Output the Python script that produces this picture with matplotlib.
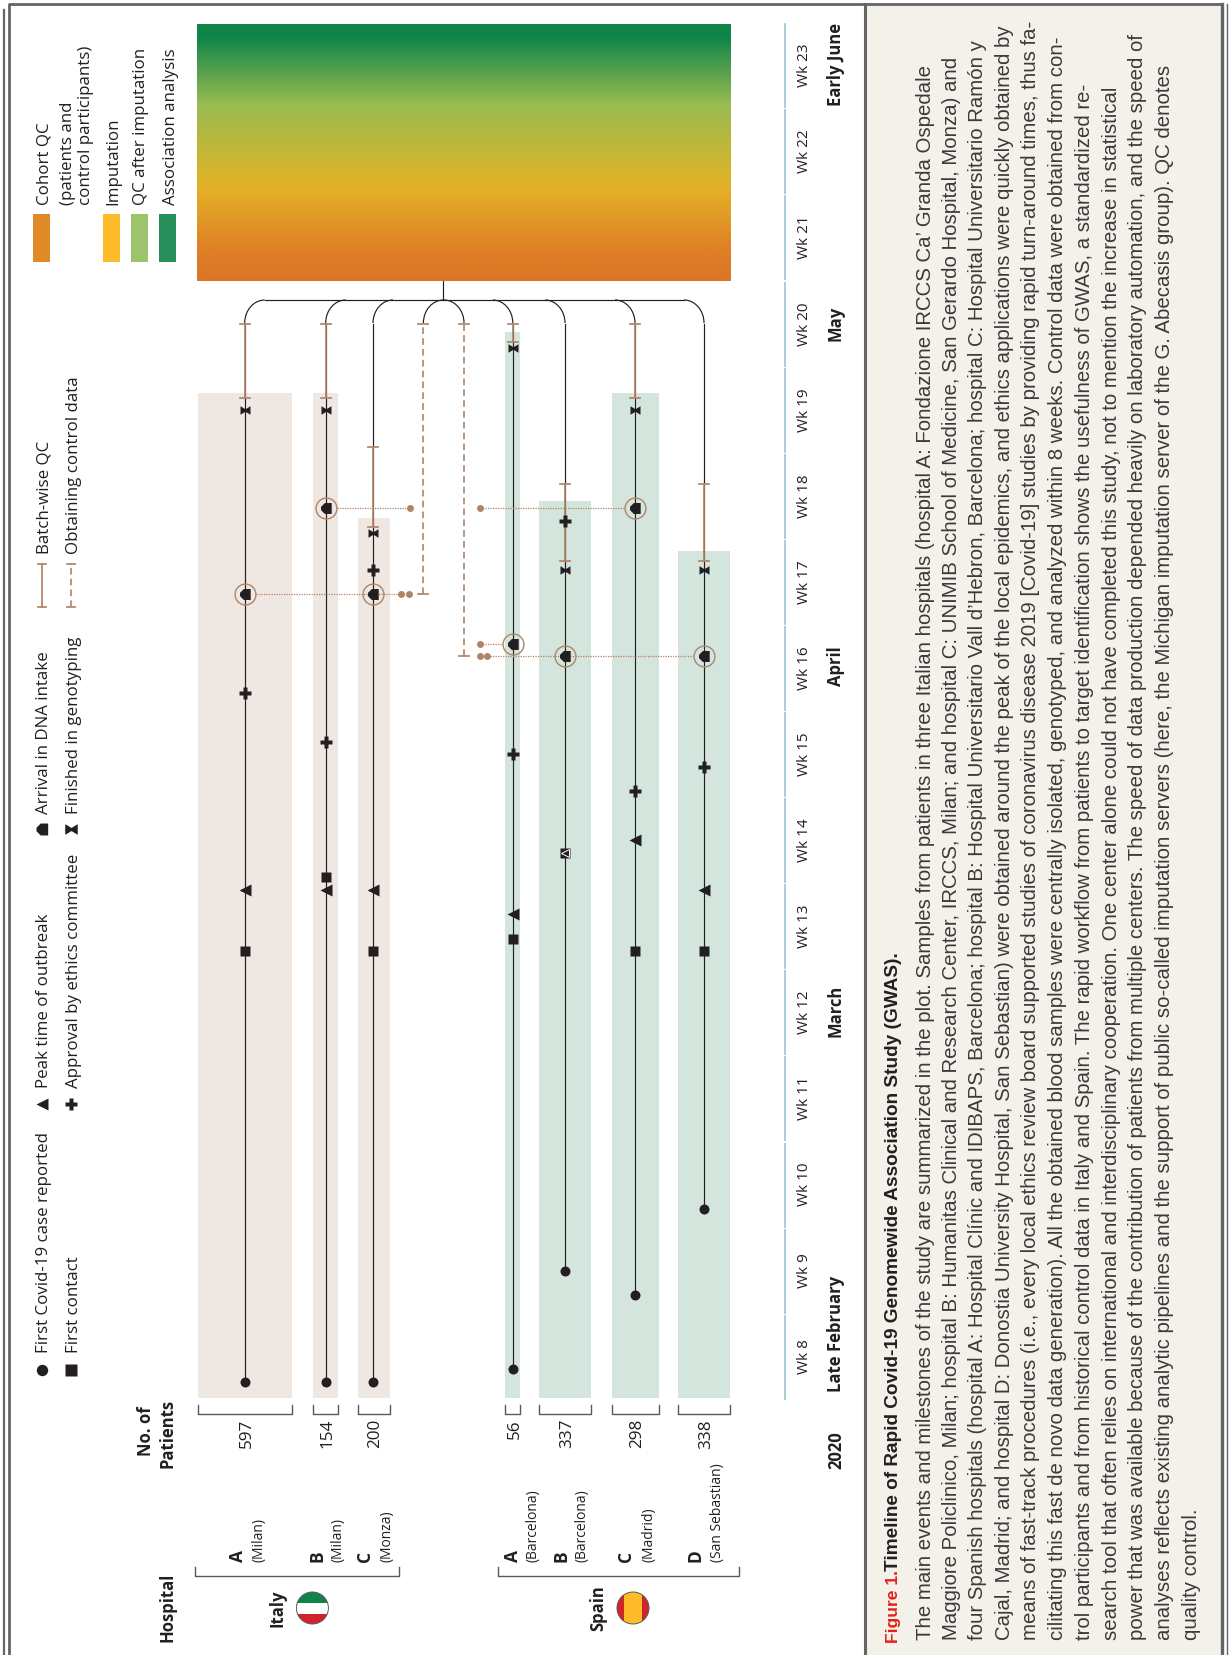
import numpy as np
import matplotlib
matplotlib.use("Agg")
import matplotlib.pyplot as plt
from matplotlib.path import Path
from matplotlib.patches import PathPatch, Rectangle, Circle
from matplotlib.colors import LinearSegmentedColormap

# ------------- data (days since the start of Wk 8, 2020) -------------
hospitals = ["IT-A", "IT-B", "IT-C", "ES-A", "ES-B", "ES-C", "ES-D"]
patients = [597, 154, 200, 56, 337, 298, 338]
first_case = [1.5, 1.5, 1.5, 2.5, 10.5, 8.5, 15.5]
first_contact = [36.5, 42.5, 36.5, 37.5, 44.5, 36.5, 36.5]
peak = [41.5, 41.5, 41.5, 39.5, 44.5, 45.5, 41.5]
approval = [57.5, 53.5, 67.5, 52.5, 71.5, 49.5, 51.5]
arrival = [65.5, 72.5, 65.5, 61.5, 60.5, 72.5, 60.5]
finished = [80.5, 80.5, 70.5, 85.5, 67.5, 80.5, 67.5]
batch_start = [81.5, 81.5, 71.0, 86.0, 68.2, 81.5, 68.2]
batch_end = [87.5, 87.5, 77.5, 87.5, 74.5, 87.5, 74.5]
band_end = [81.9, 81.9, 71.7, 86.8, 73.1, 81.9, 69.0]
control_start = [65.5, 60.5]
control_end = [87.5, 87.5]
analysis_start, analysis_end = 91.0, 111.85
timeline_start, timeline_end = 0.15, 87.5
weeks = list(range(8, 24))
months = ["Late February", "March", "April", "May", "Early June"]
month_days = [5.4, 31.6, 59.7, 87.5, 108.6]

# ------------- layout -------------
W, H = 1229, 1655
DAY_PX, Y0 = 12.3, 1400.0
lane_x = [244.7, 325.7, 373, 512.8, 565, 635, 704]
band_lo = [198, 313, 358, 505, 539, 612, 678]
band_hi = [292, 338, 389.5, 520, 591, 659, 730]
ctrl_x = [423.4, 464]
BROWN = "#B08468"
IT_BAND, ES_BAND = "#EFE7E1", "#D4E5DD"
INK = "#231F20"
FONT = "Open Sans"
NARROW = ["Liberation Sans Narrow", "Liberation Sans"]

fig = plt.figure(figsize=(W / 100, H / 100), dpi=100, facecolor="white")
px = fig.add_axes([0, 0, 1, 1]); px.set_xlim(0, W); px.set_ylim(H, 0); px.axis("off")
ax = fig.add_axes([0, 0, 1, 1]); ax.set_xlim(0, W)
ax.set_ylim((Y0 - H) / DAY_PX, Y0 / DAY_PX); ax.axis("off"); ax.patch.set_alpha(0)

def T(x, y, s, size=12, weight="normal", ha="center", va="center", color="#231F20", fam=FONT):
    return px.text(x + 2, y, s, rotation=90, fontsize=size, fontweight=weight,
                   ha=ha, va=va, color=color, family=fam)

def B(x, y, s, size=12.2, weight="normal", color="#231F20", fam=FONT):
    """Text placed by the start of its baseline."""
    return px.text(x, y, s, rotation=90, rotation_mode="anchor", fontsize=size, fontweight=weight,
                   ha="left", va="baseline", color=color, family=fam)

# frame and caption panel
GR = "#636466"
px.add_patch(Rectangle((864, 4), 358, H, fc="#F4F1EA", ec="none", zorder=0))
px.plot([4, 4], [10, H], color=GR, lw=1.6)
px.plot([9, 9, 1222], [H, 4, 4], color=GR, lw=2.0)
px.plot([865, 865], [4, H], color=GR, lw=2.2)
px.plot([1221.5, 1221.5], [4, H], color=GR, lw=2.4)
px.plot([1227, 1227], [4, H], color=GR, lw=1.0)

# markers
pent = Path([(0.95, -1), (0.95, 1), (-0.3, 1), (-1, 0.3), (-1, -0.3), (-0.3, -1), (0.95, -1)], closed=True)
bow = Path([(-1, 0.85), (0, 0.25), (1, 0.85), (1, -0.85), (0, -0.25), (-1, -0.85), (-1, 0.85)], closed=True)
P = dict(ls="none", color=INK, mec="none")

# hospital bands, lanes
for i, h in enumerate(hospitals):
    c = IT_BAND if h.startswith("IT") else ES_BAND
    ax.add_patch(Rectangle((band_lo[i], timeline_start), band_hi[i] - band_lo[i],
                           band_end[i] - timeline_start, fc=c, ec="none", zorder=1))
    x = lane_x[i]
    ax.plot([x, x], [first_case[i], timeline_end], color=INK, lw=0.85, zorder=2)
    ax.plot([x, x], [batch_start[i], batch_end[i]], color=BROWN, lw=1.25, zorder=3)
    for d in (batch_start[i], batch_end[i]):
        ax.plot([x - 5, x + 5], [d, d], color=BROWN, lw=1.25, zorder=3)
    ax.plot([x], [first_case[i]], marker="o", ms=7.2, zorder=5, **P)
    ax.plot([x], [first_contact[i]], marker="s", ms=7.0, zorder=5, **P)
    if first_contact[i] == peak[i]:
        ax.plot([x], [peak[i]], marker="<", ms=5.5, mfc="none", mec="white", mew=0.7, ls="none", zorder=6)
    else:
        ax.plot([x], [peak[i]], marker="<", ms=8.6, zorder=5, **P)
    ax.plot([x], [approval[i]], marker="P", ms=9.0, zorder=5, **P)
    ax.plot([x], [arrival[i]], marker=pent, ms=7.9, zorder=5, **P)
    ax.plot([x], [arrival[i]], marker="o", ms=15, mfc="none", mec=BROWN, mew=1.0, ls="none", zorder=5)
    ax.plot([x], [finished[i]], marker=bow, ms=7.2, zorder=5, **P)
    # patient-count bracket
    px.plot([band_lo[i], band_lo[i], band_hi[i], band_hi[i]], [1404.5, 1414, 1414, 1404.5], color="#58595B", lw=1.0)
    T(x, 1419, str(patients[i]), size=12.3, va="top")

# control data (dashed)
for x, s, e in zip(ctrl_x, control_start, control_end):
    ax.plot([x, x], [s, e], color=BROWN, lw=1.2, ls=(0, (4, 2.5)), zorder=3)
    for d in (s, e):
        ax.plot([x - 5, x + 5], [d, d], color=BROWN, lw=1.25, zorder=3)

# dotted links between the arrival rings and the control data
def link(a, b, d, dots):
    ax.plot([a, b], [d, d], color=BROWN, lw=0.9, ls=(0, (1, 1)), zorder=4)
    ax.plot(dots, [d] * len(dots), marker="o", ms=5.0, ls="none", color=BROWN, mec="none", zorder=4)
link(lane_x[1] + 11, 409.5, arrival[1], [409.5])
link(479.5, lane_x[5] - 11, arrival[5], [479.5])
link(lane_x[0] + 11, 409, arrival[0], [401, 409])
link(479.5, lane_x[3] - 11, arrival[3], [479.5])
link(479.5, lane_x[6] - 11, arrival[6], [479.5, 487])

# connector from lanes to the analysis block
STEM, HY, TOP = 443.4, 300, 323
px.plot([STEM, STEM], [281, HY], color=INK, lw=0.85, zorder=2)
px.plot([lane_x[0] + 20, lane_x[-1] - 20], [HY, HY], color=INK, lw=0.85, zorder=2)
k = 0.55
for x in sorted(lane_x + ctrl_x):
    s = 1 if x < STEM else -1
    r = 20
    path = Path([(x, TOP), (x, TOP - k * (TOP - HY)), (x + s * r * (1 - k), HY), (x + s * r, HY)],
                [Path.MOVETO, Path.CURVE4, Path.CURVE4, Path.CURVE4])
    px.add_patch(PathPatch(path, fc="none", ec=INK, lw=0.85, zorder=2))

# analysis gradient
cmap = LinearSegmentedColormap.from_list("qc", [(0, "#DC7626"), (0.12, "#DF7F26"), (0.366, "#E3B326"),
                                                (0.69, "#98BC50"), (0.95, "#10854A"), (1, "#0F8446")])
ax.imshow(np.linspace(0, 1, 256)[:, None], origin="lower", aspect="auto", cmap=cmap,
          extent=(197, 731, analysis_start, analysis_end), zorder=2)
ax.set_xlim(0, W); ax.set_ylim((Y0 - H) / DAY_PX, Y0 / DAY_PX)

# week axis
for w in weeks:
    d0 = (w - 8) * 7
    px.plot([785, 785], [Y0 - (d0 + 0.1) * DAY_PX, Y0 - (d0 + 6.85) * DAY_PX], color="#A9CCD8", lw=1.4)
    T(802, Y0 - (d0 + 3.5) * DAY_PX, f"Wk {w}", size=11)
for m, d in zip(months, month_days):
    T(834, Y0 - d * DAY_PX, m, size=12, weight="bold")
T(834, 1450, "2020", size=12, weight="bold")

# legends
COL1, COL2 = 48.5, 77.5
items = [(41.6, COL1, 1370, "o", 8.2, "First Covid-19 case reported", 1353), (70.5, COL2, 1370, "s", 8.0, "First contact", 1353),
         (41.6, COL1, 1104, "<", 9.0, "Peak time of outbreak", 1087.5), (70.5, COL2, 1104, "P", 9.0, "Approval by ethics committee", 1087.5),
         (41.6, COL1, 829, pent, 8.6, "Arrival in DNA intake", 814), (70.5, COL2, 829, bow, 9.0, "Finished in genotyping", 814)]
for x, xb, y, m, ms, s, ys in items:
    px.plot([x], [y], marker=m, ms=ms, **P)
    B(xb, ys, s)
px.plot([41.6, 41.6], [607, 564], color=BROWN, lw=1.25)
px.plot([70.5, 70.5], [607, 564], color=BROWN, lw=1.2, ls=(0, (4, 2.5)))
for x in (41.6, 70.5):
    for y in (607, 564):
        px.plot([x - 4, x + 4], [y, y], color=BROWN, lw=1.25)
B(COL1, 553.6, "Batch-wise QC")
B(COL2, 553.6, "Obtaining control data")

for x0, x1, c in [(33, 50, "#E08A2A"), (103, 120, "#FDBB2A"), (131, 148, "#9DC46A"), (159, 176, "#268F5B")]:
    px.add_patch(Rectangle((x0, 214), x1 - x0, 48, fc=c, ec="none"))
for x, s in [(48.8, "Cohort QC"), (72, "(patients and"), (90.5, "control participants)"), (117.6, "Imputation"),
             (145, "QC after imputation"), (174.8, "Association analysis")]:
    B(x, 205, s)

# left headers
T(144, 1431, "No. of", size=12, weight="bold")
T(166, 1433, "Patients", size=12, weight="bold")
T(166, 1607, "Hospital", size=12, weight="bold")
labels = [(236, "A", 257, "(Milan)"), (315, "B", 336, "(Milan)"), (363, "C", 385, "(Monza)"),
          (510.5, "A", 531, "(Barcelona)"), (559, "B", 580, "(Barcelona)"), (624, "C", 646.5, "(Madrid)"),
          (694, "D", 716, "(San Sebastian)")]
for xa, a, xb, b in labels:
    T(xa, 1562, a, size=12.5, weight="bold", va="bottom")
    T(xb, 1562, b, size=10, va="bottom")
for lo, hi in [(195.3, 398.5), (498, 739)]:
    px.plot([lo, lo, hi, hi], [1567, 1576, 1576, 1567], color="#58595B", lw=1.0)
T(276, 1608, "Italy", size=12, weight="bold")
T(596.5, 1608, "Spain", size=12, weight="bold")

# flags
def flag(cx, cy, r, rects):
    clip = Circle((cx, cy), r, transform=px.transData)
    for (x0, y0, w, h, c) in rects:
        p = Rectangle((x0, y0), w, h, fc=c, ec="none", zorder=3)
        px.add_patch(p); p.set_clip_path(clip)
    px.add_patch(Circle((cx, cy), r, fc="none", ec="#58595B", lw=0.7, zorder=4))
flag(312.4, 1608, 16, [(296, 1592, 33, 11, "#0F8446"), (296, 1603, 33, 11, "white"), (296, 1614, 33, 11, "#D2232A")])
flag(633, 1608, 16, [(617, 1592, 7, 33, "#D2232A"), (624, 1592, 18, 33, "#FDBB2A"), (642, 1592, 8, 33, "#D2232A")])

# caption
CS = 14.7
cap_x = [930.7, 956.7, 982.7, 1010, 1036, 1062.7, 1090, 1116.7, 1143, 1170, 1196.7]
cap = [
 "The main events and milestones of the study are summarized in the plot. Samples from patients in three Italian hospitals (hospital A: Fondazione IRCCS Ca\u2019 Granda Ospedale",
 "Maggiore Policlinico, Milan; hospital B: Humanitas Clinical and Research Center, IRCCS, Milan; and hospital C: UNIMIB School of Medicine, San Gerardo Hospital, Monza) and",
 "four Spanish hospitals (hospital A: Hospital Cl\u00ednic and IDIBAPS, Barcelona; hospital B: Hospital Universitario Vall d\u2019Hebron, Barcelona; hospital C: Hospital Universitario Ram\u00f3n y",
 "Cajal, Madrid; and hospital D: Donostia University Hospital, San Sebastian) were obtained around the peak of the local epidemics, and ethics applications were quickly obtained by",
 "means of fast-track procedures (i.e., every local ethics review board supported studies of coronavirus disease 2019 [Covid-19] studies by providing rapid turn-around times, thus fa-",
 "cilitating this fast de novo data generation). All the obtained blood samples were centrally isolated, genotyped, and analyzed within 8 weeks. Control data were obtained from con-",
 "trol participants and from historical control data in Italy and Spain. The rapid workflow from patients to target identification shows the usefulness of GWAS, a standardized re-",
 "search tool that often relies on international and interdisciplinary cooperation. One center alone could not have completed this study, not to mention the increase in statistical",
 "power that was available because of the contribution of patients from multiple centers. The speed of data production depended heavily on laboratory automation, and the speed of",
 "analyses reflects existing analytic pipelines and the support of public so-called imputation servers (here, the Michigan imputation server of the G. Abecasis group). QC denotes",
 "quality control.",
]
for x, s in zip(cap_x, cap):
    B(x, 1640, s, size=CS, fam=NARROW, color="#3A3A3A")
B(898.3, 1643, "Figure 1.", size=12.6, fam=NARROW, weight="bold", color="#E2231A")
B(898.3, 1571, "Timeline of Rapid Covid-19 Genomewide Association Study (GWAS).", size=13.65, fam=NARROW, weight="bold")

fig.savefig("out.png", dpi=100)
